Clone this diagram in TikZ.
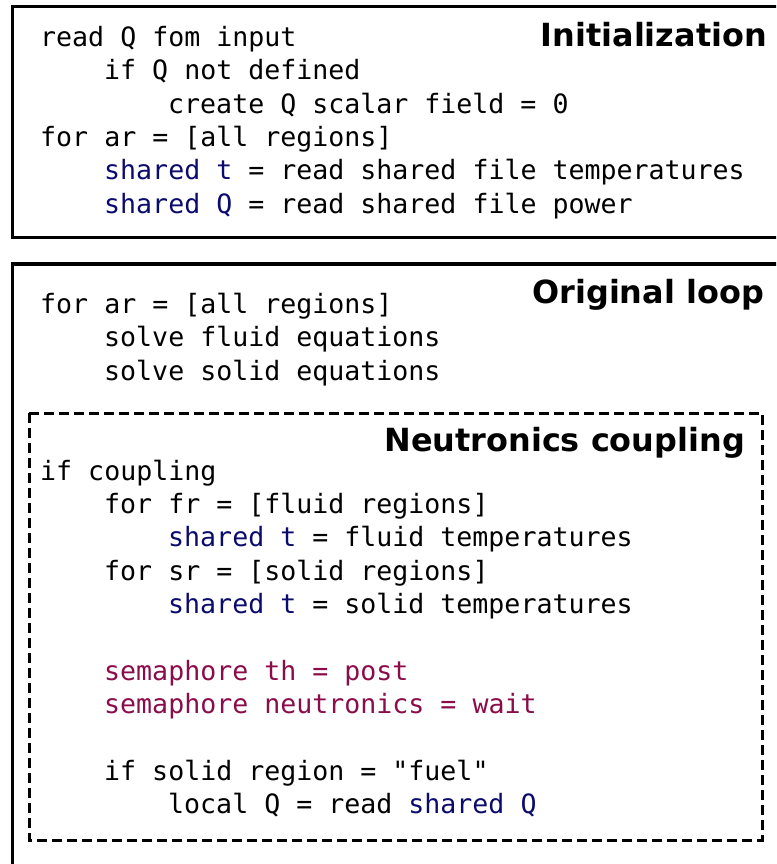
\documentclass[tikz,border=0pt]{standalone}
\usepackage{fontspec}
\setmainfont{DejaVu Sans}
\setmonofont{DejaVu Sans Mono}
\definecolor{sharedblue}{HTML}{0B0B6E}
\definecolor{semapurple}{HTML}{8A0D4A}
\newcommand{\shr}[1]{\textcolor{sharedblue}{#1}}
\newcommand{\sem}[1]{\textcolor{semapurple}{#1}}
\begin{document}
\begin{tikzpicture}[x=1pt,y=-1pt,
  code/.style={anchor=base west,inner sep=0pt,font=\ttfamily\fontsize{26.6}{33}\selectfont},
  boxtitle/.style={anchor=base east,inner sep=0pt,font=\bfseries\fontsize{31.9}{36}\selectfont},
  solidbox/.style={draw=black,line width=3.4pt},
  dashbox/.style={draw=black,line width=3pt,dash pattern=on 10pt off 5pt}]
\useasboundingbox (0,0) rectangle (776,864);
\clip (0,0) rectangle (776,864);
% frames
\draw[solidbox] (12.5,6.5) rectangle (800,237.5);
\draw[solidbox] (12.5,264) rectangle (800,900);
\draw[dashbox] (29,413) rectangle (762,840);
% titles
\node[boxtitle] (tinit) at (767,46.5) {Initialization};
\node[boxtitle] (tloop) at (764,303.5) {Original loop};
\node[boxtitle] (tneut) at (745,451.5) {Neutronics coupling};
% code lines: x = 40 + 16 per indent char, baseline = 46.5 + 33.35 per row
\node[code] (c0)  at (40, 46.5)  {read Q fom input};
\node[code] (c1)  at (104, 79.85) {if Q not defined};
\node[code] (c2)  at (168,113.2) {create Q scalar field = 0};
\node[code] (c3)  at (40,146.55) {for ar = [all regions]};
\node[code] (c4)  at (104,179.9) {\shr{shared t} = read shared file temperatures};
\node[code] (c5)  at (104,213.25) {\shr{shared Q} = read shared file power};
\node[code] (c8)  at (40,313.3)  {for ar = [all regions]};
\node[code] (c9)  at (104,346.65) {solve fluid equations};
\node[code] (c10) at (104,380.0) {solve solid equations};
\node[code] (c13) at (40,480.05) {if coupling};
\node[code] (c14) at (104,513.4) {for fr = [fluid regions]};
\node[code] (c15) at (168,546.75) {\shr{shared t} = fluid temperatures};
\node[code] (c16) at (104,580.1) {for sr = [solid regions]};
\node[code] (c17) at (168,613.45) {\shr{shared t} = solid temperatures};
\node[code] (c19) at (104,680.15) {\sem{semaphore th = post}};
\node[code] (c20) at (104,713.5) {\sem{semaphore neutronics = wait}};
\node[code] (c22) at (104,780.2) {if solid region = "fuel"};
\node[code] (c23) at (168,813.55) {local Q = read \shr{shared Q}};
\end{tikzpicture}
\end{document}
